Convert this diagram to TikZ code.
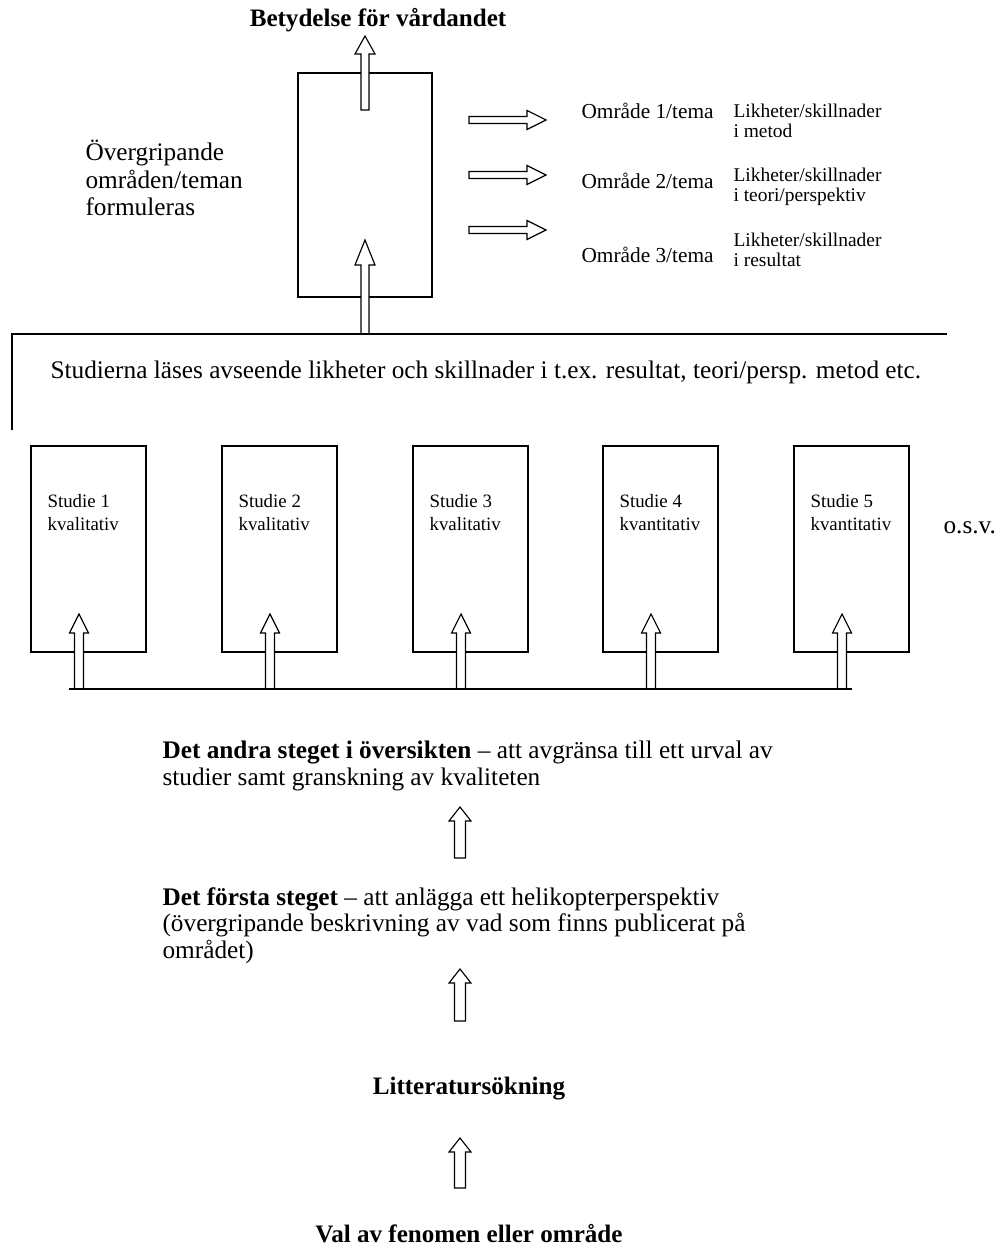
\documentclass[tikz,border=0pt]{standalone}
\usepackage{fontspec}
\setmainfont{Liberation Serif}
\usepackage{tikz}
\usetikzlibrary{positioning}

% block arrows: x, tip y, tail y, shaft half, head half, head length
\newcommand{\upblock}[6]{%
  \draw[blockarrow] ({#1-#4},#3) -- ({#1-#4},{#2+#6}) -- ({#1-#5},{#2+#6}) -- (#1,#2)
    -- ({#1+#5},{#2+#6}) -- ({#1+#4},{#2+#6}) -- ({#1+#4},#3) -- cycle;}
% tail x, tip x, y, shaft half, head half, head length
\newcommand{\rightblock}[6]{%
  \draw[blockarrow] (#1,{#3-#4}) -- ({#2-#6},{#3-#4}) -- ({#2-#6},{#3-#5}) -- (#2,#3)
    -- ({#2-#6},{#3+#5}) -- ({#2-#6},{#3+#4}) -- (#1,{#3+#4}) -- cycle;}

\begin{document}
\begin{tikzpicture}[x=0.53pt, y=-0.53pt, line width=0.6pt,
    blockarrow/.style={draw=black, fill=white, line width=0.6pt},
    bodytext/.style={font=\fontsize{13.4}{13.8}\selectfont, inner sep=0pt, align=left},
    themetext/.style={font=\fontsize{13.4}{14.6}\selectfont, inner sep=0pt, align=left},
    titletext/.style={font=\fontsize{13.3}{14}\selectfont\bfseries, inner sep=0pt},
    areatext/.style={font=\fontsize{11.3}{12.6}\selectfont, inner sep=0pt},
    notetext/.style={font=\fontsize{10.3}{11.1}\selectfont, inner sep=0pt, align=left},
    studytext/.style={font=\fontsize{10}{11.7}\selectfont, inner sep=0pt, align=left}]
    \useasboundingbox (0,0) rectangle (999,1245);

    % Overarching themes
    \node[titletext, anchor=base] (impact) at (378,27) {Betydelse för vårdandet};
    \node[draw, minimum width=71pt, minimum height=118.7pt, inner sep=0pt] (themes) at (365,185) {};
    \node[themetext, anchor=base west] (formulate) at (85,216) {Övergripande\\områden/teman\\formuleras};
    \upblock{365}{36}{110}{4}{10}{18}
    \upblock{365}{240}{334}{4}{10}{25}

    % Areas
    \foreach \y in {120, 175, 230} {
        \rightblock{469}{546}{\y}{3.5}{9.5}{19}
    }
    \node[areatext, anchor=base west] (area1) at (581,119) {Område 1/tema};
    \node[areatext, anchor=base west] (area2) at (581,189) {Område 2/tema};
    \node[areatext, anchor=base west] (area3) at (581,263) {Område 3/tema};
    \node[notetext, anchor=base west] (diff1) at (733,138) {Likheter/skillnader\\i metod};
    \node[notetext, anchor=base west] (diff2) at (733,202) {Likheter/skillnader\\i teori/perspektiv};
    \node[notetext, anchor=base west] (diff3) at (733,267) {Likheter/skillnader\\i resultat};

    % Reading frame
    \draw (12,430) -- (12,334) -- (947,334);
    \node[bodytext, anchor=base west] (reading) at (50,378)
        {Studierna läses avseende likheter och skillnader i t.ex. resultat, teori/persp. metod etc.};

    % Studies
    \foreach \i/\x/\kind in {1/31/kvalitativ, 2/222/kvalitativ, 3/413/kvalitativ,
                             4/603/kvantitativ, 5/794/kvantitativ} {
        \node[draw, minimum width=61pt, minimum height=109.2pt, inner sep=0pt] (box\i) at (\x+57.5,549) {};
        \node[studytext, anchor=base west] (studie\i) at (\x+16,530) {Studie \i\\\kind};
        \upblock{\x+48}{614}{689}{4.5}{9.5}{19}
    }
    \node[bodytext, anchor=base west] (etc) at (943,533) {o.s.v.};
    \draw (69,689) -- (852,689);

    % Steps
    \node[bodytext, anchor=base west] (step2) at (162,785)
        {\textbf{Det andra steget i översikten} – att avgränsa till ett urval av\\studier samt granskning av kvaliteten};
    \upblock{460}{807}{858}{5.5}{11}{14}
    \node[bodytext, anchor=base west] (step1) at (162,958)
        {\textbf{Det första steget} – att anlägga ett helikopterperspektiv\\(övergripande beskrivning av vad som finns publicerat på\\området)};
    \upblock{460}{969}{1021}{5.5}{11}{14}
    \node[titletext, anchor=base] (search) at (469,1094) {Litteratursökning};
    \upblock{460}{1138}{1188}{5.5}{11}{14}
    \node[titletext, anchor=base] (choice) at (469,1242) {Val av fenomen eller område};
\end{tikzpicture}
\end{document}
